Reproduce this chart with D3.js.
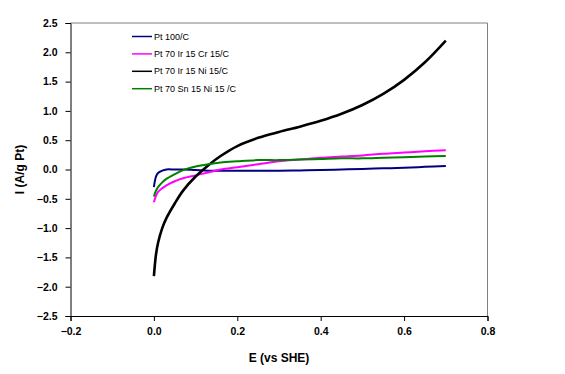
<!DOCTYPE html>
<html>
<head>
<meta charset="utf-8">
<script src="https://cdn.jsdelivr.net/npm/d3@7"></script>
<style>
  body { margin: 0; background: #fff; }
  text { font-family: "Liberation Sans", Arial, sans-serif; }
</style>
</head>
<body>
<div id="chart"></div>
<script>
// potential (V vs SHE) sample points, shared by all series
var potential = [0, 0.005, 0.01, 0.02, 0.03, 0.05, 0.07, 0.1, 0.13, 0.16, 0.2, 0.25, 0.3, 0.35, 0.4, 0.45, 0.5, 0.55, 0.6, 0.65, 0.7];

var seriesNames = ["Pt 100/C", "Pt 70 Ir 15 Cr 15/C", "Pt 70 Ir 15 Ni 15/C", "Pt 70 Sn 15 Ni 15 /C"];
var seriesColors = ["#000080", "#ff00ff", "#000000", "#008000"];

var ptC     = [-0.3, -0.12, -0.06, -0.02, 0.0, 0.0, 0.0, -0.01, -0.02, -0.02, -0.02, -0.02, -0.02, -0.015, -0.01, 0.0, 0.01, 0.02, 0.03, 0.045, 0.06];
var ptIrCr  = [-0.56, -0.45, -0.38, -0.32, -0.27, -0.2, -0.15, -0.1, -0.05, 0.0, 0.04, 0.09, 0.14, 0.17, 0.2, 0.22, 0.24, 0.27, 0.29, 0.31, 0.33];
var ptIrNi  = [-1.82, -1.45, -1.25, -1.0, -0.83, -0.58, -0.36, -0.12, 0.07, 0.23, 0.4, 0.54, 0.64, 0.73, 0.83, 0.95, 1.1, 1.29, 1.53, 1.83, 2.2];
var ptSnNi  = [-0.46, -0.36, -0.3, -0.22, -0.16, -0.08, -0.01, 0.05, 0.09, 0.12, 0.14, 0.16, 0.16, 0.17, 0.18, 0.19, 0.19, 0.2, 0.21, 0.22, 0.23];

var xTicks = [-0.2, 0, 0.2, 0.4, 0.6, 0.8];
var yTicks = [-2.5, -2, -1.5, -1, -0.5, 0, 0.5, 1, 1.5, 2, 2.5];

var allSeries = [ptC, ptIrCr, ptIrNi, ptSnNi];

var width = 565, height = 374;
var margin = { top: 23, left: 70.5, right: 77.5, bottom: 58 };

var svg = d3.select("#chart").append("svg")
  .attr("width", width)
  .attr("height", height);

var x = d3.scaleLinear().domain([-0.2, 0.8]).range([margin.left, width - margin.right]);
var y = d3.scaleLinear().domain([-2.5, 2.5]).range([height - margin.bottom, margin.top]);

// grey frame (top and right)
svg.append("path")
  .attr("d", "M" + x(-0.2) + "," + y(2.5) + "H" + x(0.8) + "V" + y(-2.5))
  .attr("fill", "none")
  .attr("stroke", "#808080")
  .attr("stroke-width", 1);

var xAxis = svg.append("g")
  .attr("transform", "translate(0," + y(-2.5) + ")")
  .call(d3.axisBottom(x).tickValues(xTicks).tickFormat(d3.format(".1f")).tickSize(5).tickPadding(7));

var yAxis = svg.append("g")
  .attr("transform", "translate(" + x(-0.2) + ",0)")
  .call(d3.axisLeft(y).tickValues(yTicks).tickFormat(d3.format(".1f")).tickSize(5).tickPadding(8));

[xAxis, yAxis].forEach(function(g) {
  g.select(".domain").attr("stroke", "#000");
  g.selectAll(".tick line").attr("stroke", "#000");
  g.selectAll("text")
    .attr("fill", "#000")
    .style("font-size", "10.5px")
    .style("font-weight", "bold");
});

var line = d3.line()
  .x(function(d, i) { return x(potential[i]); })
  .y(function(d) { return y(d); })
  .curve(d3.curveCatmullRom.alpha(0.5));

svg.selectAll(".series")
  .data(allSeries)
  .enter().append("path")
  .attr("class", "series")
  .attr("d", line)
  .attr("fill", "none")
  .attr("stroke", function(d, i) { return seriesColors[i]; })
  .attr("stroke-width", function(d, i) { return i == 2 ? 2.6 : 2; });

// axis titles
svg.append("text")
  .attr("x", (x(-0.2) + x(0.8)) / 2)
  .attr("y", 362)
  .attr("text-anchor", "middle")
  .style("font-size", "12px")
  .style("font-weight", "bold")
  .text("E (vs SHE)");

svg.append("text")
  .attr("transform", "translate(24," + y(0) + ") rotate(-90)")
  .attr("text-anchor", "middle")
  .style("font-size", "12px")
  .style("font-weight", "bold")
  .text("I (A/g Pt)");

// legend
var legend = svg.selectAll(".legend")
  .data(seriesNames)
  .enter().append("g")
  .attr("class", "legend")
  .attr("transform", function(d, i) { return "translate(132," + (36.5 + i * 17.4) + ")"; });

legend.append("line")
  .attr("x1", 0).attr("x2", 20)
  .attr("stroke", function(d, i) { return seriesColors[i]; })
  .attr("stroke-width", 1.5);

legend.append("text")
  .attr("x", 22)
  .attr("dy", "0.35em")
  .style("font-size", "9px")
  .text(function(d) { return d; });
</script>
</body>
</html>
